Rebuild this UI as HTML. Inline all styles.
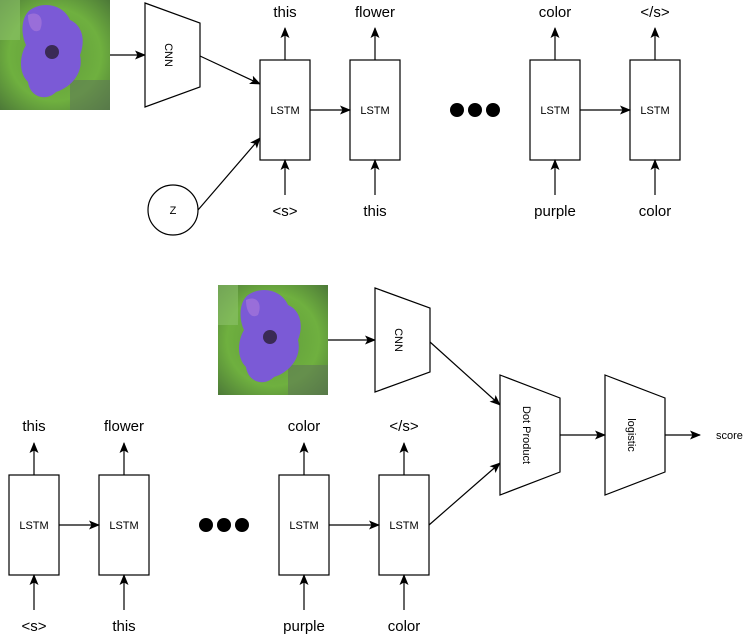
<!DOCTYPE html>
<html><head><style>
html,body{margin:0;padding:0;background:#fff;}
svg{display:block;}
text{font-family:"Liberation Sans",sans-serif;fill:#000;}
.l{font-size:11px;}
.w{font-size:15px;}
</style></head><body>
<svg width="751" height="636" viewBox="0 0 751 636" xmlns="http://www.w3.org/2000/svg">
<defs>
<marker id="a" markerWidth="12" markerHeight="12" refX="10" refY="6" orient="auto" markerUnits="userSpaceOnUse">
<path d="M0,1.5 L11,6 L0,10.5 L2.5,6 Z" fill="#000"/></marker>
<radialGradient id="bg" cx="50%" cy="50%" r="70%">
<stop offset="0" stop-color="#5f9a3c"/><stop offset="0.6" stop-color="#6fb03f"/><stop offset="1" stop-color="#4d7a38"/></radialGradient>
<g id="flower">
<rect width="110" height="110" fill="url(#bg)"/>
<rect x="0" y="0" width="20" height="40" fill="#8cc26a" opacity="0.6"/>
<rect x="70" y="80" width="40" height="30" fill="#5f7a55" opacity="0.6"/>
<path d="M30,10 C45,0 64,6 70,20 C82,25 86,40 80,55 C84,72 72,87 56,92 C46,102 30,97 28,82 C18,72 20,55 26,45 C20,32 22,16 30,10 Z" fill="#7b5ad6"/>
<path d="M28,15 C38,10 45,18 40,30 C34,34 28,28 28,15Z" fill="#a173d9" opacity="0.8"/>
<circle cx="52" cy="52" r="7" fill="#3a2a55"/>
</g>
</defs>
<g stroke="#000" stroke-width="1.2" fill="none">
<line x1="110" y1="55" x2="145" y2="55" marker-end="url(#a)"/>
<polygon points="145,3 200,23 200,87 145,107" fill="#fff"/>
<line x1="200" y1="56" x2="260" y2="84" marker-end="url(#a)"/>
<circle cx="173" cy="210" r="25" fill="#fff"/>
<line x1="198" y1="210" x2="260" y2="138" marker-end="url(#a)"/>
<rect x="260" y="60" width="50" height="100" fill="#fff"/>
<rect x="350" y="60" width="50" height="100" fill="#fff"/>
<rect x="530" y="60" width="50" height="100" fill="#fff"/>
<rect x="630" y="60" width="50" height="100" fill="#fff"/>
<line x1="310" y1="110" x2="350" y2="110" marker-end="url(#a)"/>
<line x1="580" y1="110" x2="630" y2="110" marker-end="url(#a)"/>
<line x1="285" y1="60" x2="285" y2="28" marker-end="url(#a)"/>
<line x1="375" y1="60" x2="375" y2="28" marker-end="url(#a)"/>
<line x1="555" y1="60" x2="555" y2="28" marker-end="url(#a)"/>
<line x1="655" y1="60" x2="655" y2="28" marker-end="url(#a)"/>
<line x1="285" y1="195" x2="285" y2="160" marker-end="url(#a)"/>
<line x1="375" y1="195" x2="375" y2="160" marker-end="url(#a)"/>
<line x1="555" y1="195" x2="555" y2="160" marker-end="url(#a)"/>
<line x1="655" y1="195" x2="655" y2="160" marker-end="url(#a)"/>
<line x1="328" y1="340" x2="375" y2="340" marker-end="url(#a)"/>
<polygon points="375,288 430,308 430,372 375,392" fill="#fff"/>
<line x1="430" y1="342" x2="500" y2="405" marker-end="url(#a)"/>
<line x1="429" y1="525" x2="500" y2="463" marker-end="url(#a)"/>
<polygon points="500,375 560,398 560,472 500,495" fill="#fff"/>
<polygon points="605,375 665,398 665,472 605,495" fill="#fff"/>
<line x1="560" y1="435" x2="605" y2="435" marker-end="url(#a)"/>
<line x1="665" y1="435" x2="700" y2="435" marker-end="url(#a)"/>
<rect x="9" y="475" width="50" height="100" fill="#fff"/>
<rect x="99" y="475" width="50" height="100" fill="#fff"/>
<rect x="279" y="475" width="50" height="100" fill="#fff"/>
<rect x="379" y="475" width="50" height="100" fill="#fff"/>
<line x1="59" y1="525" x2="99" y2="525" marker-end="url(#a)"/>
<line x1="329" y1="525" x2="379" y2="525" marker-end="url(#a)"/>
<line x1="34" y1="475" x2="34" y2="443" marker-end="url(#a)"/>
<line x1="124" y1="475" x2="124" y2="443" marker-end="url(#a)"/>
<line x1="304" y1="475" x2="304" y2="443" marker-end="url(#a)"/>
<line x1="404" y1="475" x2="404" y2="443" marker-end="url(#a)"/>
<line x1="34" y1="610" x2="34" y2="575" marker-end="url(#a)"/>
<line x1="124" y1="610" x2="124" y2="575" marker-end="url(#a)"/>
<line x1="304" y1="610" x2="304" y2="575" marker-end="url(#a)"/>
<line x1="404" y1="610" x2="404" y2="575" marker-end="url(#a)"/>
</g>
<use href="#flower" x="0" y="0"/>
<use href="#flower" x="218" y="285"/>
<g fill="#000">
<circle cx="457" cy="110" r="7"/><circle cx="475" cy="110" r="7"/><circle cx="493" cy="110" r="7"/>
<circle cx="206" cy="525" r="7"/><circle cx="224" cy="525" r="7"/><circle cx="242" cy="525" r="7"/>
</g>
<g class="l" text-anchor="middle">
<text x="285" y="114">LSTM</text><text x="375" y="114">LSTM</text><text x="555" y="114">LSTM</text><text x="655" y="114">LSTM</text>
<text x="34" y="529">LSTM</text><text x="124" y="529">LSTM</text><text x="304" y="529">LSTM</text><text x="404" y="529">LSTM</text>
<text x="173" y="214">Z</text>
<text transform="translate(169,55) rotate(90)" y="4">CNN</text>
<text transform="translate(399,340) rotate(90)" y="4">CNN</text>
<text transform="translate(527,435) rotate(90)" y="4">Dot Product</text>
<text transform="translate(632,435) rotate(90)" y="4">logistic</text>
</g>
<text class="l" x="716" y="439">score</text>
<g class="w" text-anchor="middle">
<text x="285" y="17">this</text><text x="375" y="17">flower</text><text x="555" y="17">color</text><text x="655" y="17">&lt;/s&gt;</text>
<text x="285" y="216">&lt;s&gt;</text><text x="375" y="216">this</text><text x="555" y="216">purple</text><text x="655" y="216">color</text>
<text x="34" y="431">this</text><text x="124" y="431">flower</text><text x="304" y="431">color</text><text x="404" y="431">&lt;/s&gt;</text>
<text x="34" y="631">&lt;s&gt;</text><text x="124" y="631">this</text><text x="304" y="631">purple</text><text x="404" y="631">color</text>
</g>
</svg>
</body></html>
